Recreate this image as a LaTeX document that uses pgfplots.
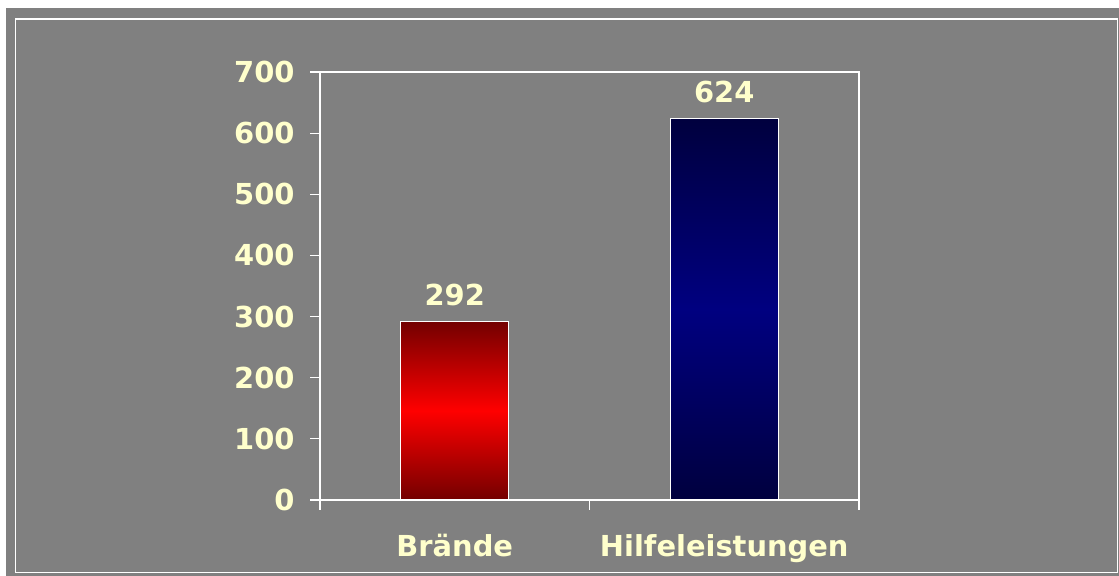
\documentclass[border=0pt]{standalone}
\usepackage{pgfplots}
\pgfplotsset{compat=1.18}
\usepackage{fontspec}
\setmainfont{DejaVu Sans}
\definecolor{bggray}{RGB}{128,128,128}
\definecolor{lbl}{RGB}{255,255,204}
\definecolor{rdark}{RGB}{115,0,0}
\definecolor{rmid}{RGB}{255,0,0}
\definecolor{bdark}{RGB}{0,0,62}
\definecolor{bmid}{RGB}{0,0,128}
\pgfdeclarelayer{bgpage}
\pgfplotsset{layers/mine/.define layer set={bgpage,axis background,axis grid,axis ticks,axis lines,axis tick labels,main,axis descriptions,axis foreground}{}}
\begin{document}
\begin{tikzpicture}
\begin{axis}[
  set layers=mine,
  at={(320bp,76bp)}, anchor=south west,
  width=539bp, height=428bp, scale only axis,
  xmin=-0.5, xmax=1.5, ymin=0, ymax=700,
  clip=false,
  axis line style={white, line width=1.2bp},
  tick style={white, line width=1.2bp},
  tick align=outside, major tick length=10bp,
  ytick={0,100,...,700}, ytick pos=left,
  xtick={-0.5,0.5,1.5}, xticklabels={}, xtick pos=bottom,
  extra x ticks={0,1},
  extra x tick labels={Brände,Hilfeleistungen},
  extra x tick style={major tick length=0bp, tick style={draw=none}},
  /pgf/number format/assume math mode=true,
  every tick label/.append style={font=\fontsize{29}{33}\selectfont\bfseries, text=lbl},
  yticklabel style={xshift=-12bp},
  xticklabel style={yshift=-31bp},
  nodes near coords,
  every node near coord/.append style={font=\fontsize{29}{33}\selectfont\bfseries, text=lbl, fill=bggray, anchor=south, inner xsep=4bp, inner ysep=8bp, yshift=7bp},
]
\addplot[ybar, bar shift=0pt, bar width=0.4, draw=white, line width=1bp,
  top color=rdark, bottom color=rdark, middle color=rmid] coordinates {(0,292)};
\addplot[ybar, bar shift=0pt, bar width=0.4, draw=white, line width=1bp,
  top color=bdark, bottom color=bdark, middle color=bmid] coordinates {(1,624)};
\end{axis}
\begin{pgfonlayer}{bgpage}
\fill[white] (0,0) rectangle (1119bp,576bp);
\fill[bggray] (6bp,0) rectangle (1119bp,568bp);
\draw[white, line width=1.5bp] (15.5bp,3.5bp) rectangle (1117.5bp,557bp);
\end{pgfonlayer}
\end{tikzpicture}
\end{document}
